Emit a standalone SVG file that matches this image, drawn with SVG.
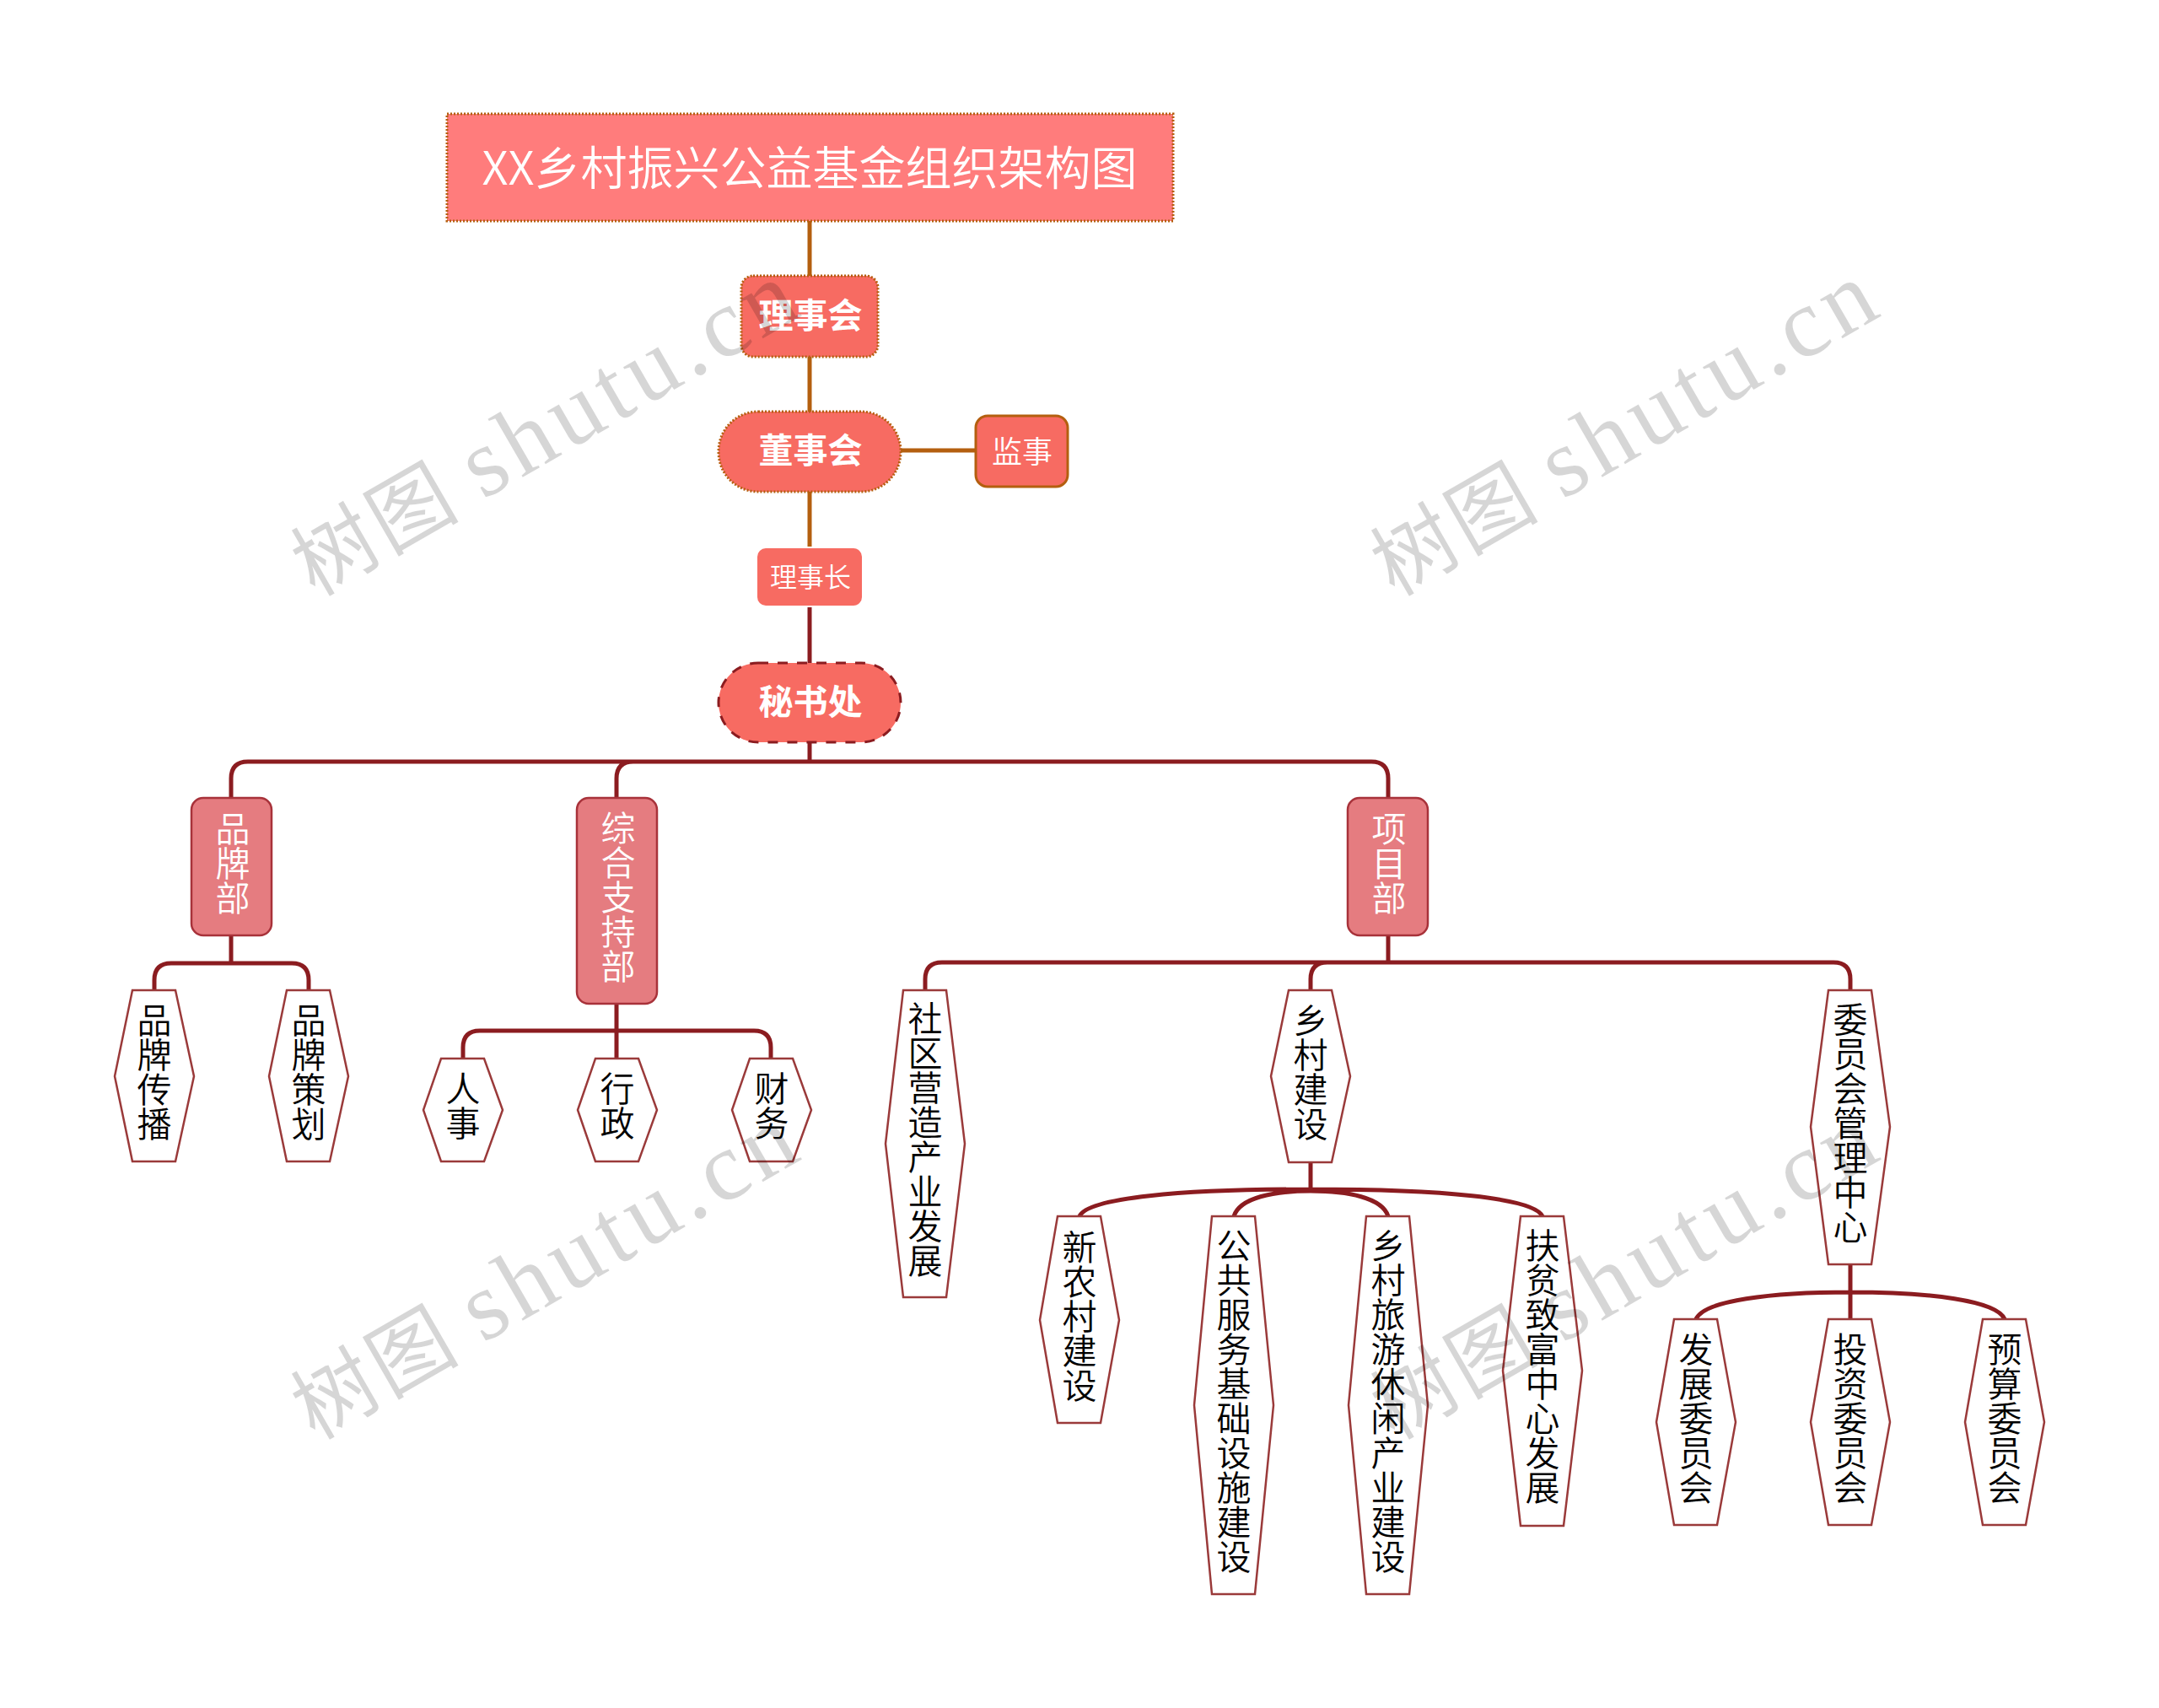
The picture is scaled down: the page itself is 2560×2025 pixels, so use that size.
<svg xmlns="http://www.w3.org/2000/svg" width="2560" height="2025" viewBox="0 0 2560 2025">
<style>
text{font-family:"Noto Sans CJK SC","Liberation Sans",sans-serif;text-anchor:middle}
.h{dominant-baseline:central;fill:#fff}
.v{writing-mode:vertical-rl;font-size:41px;font-weight:350}
.w{fill:#fff}
.k{fill:#000}
.hex{fill:#fff;stroke:#9a3a3a;stroke-width:2.5}
.dept{fill:#e57c80;stroke:#a8323a;stroke-width:2.5}
.c1{fill:none;stroke:#b45f0f;stroke-width:5}
.c2{fill:none;stroke:#8b1c20;stroke-width:5}
.wm{font-family:"Liberation Serif","Noto Sans CJK SC",serif;font-size:116px;letter-spacing:7px;fill:#000;fill-opacity:.16}
.wc{font-family:"Noto Sans CJK SC",serif;font-size:98px;letter-spacing:4px;font-weight:400}
</style>
<rect width="2560" height="2025" fill="#fff"/>
<g id="connectors">
<path class="c1" d="M960 262V327M960 423V488M960 583V648M1068 534H1157"/>
<path class="c2" d="M960 720V786M960 880V903M274 946V923Q274 903 294 903H1626Q1646 903 1646 923V946M731 946V923Q731 903 751 903"/>
<path class="c2" d="M274 1109V1142M183 1174V1162Q183 1142 203 1142H346Q366 1142 366 1162V1174"/>
<path class="c2" d="M731 1190V1255M549 1255V1242Q549 1222 569 1222H894Q914 1222 914 1242V1255"/>
<path class="c2" d="M1646 1109V1141M1097 1174V1161Q1097 1141 1117 1141H2174Q2194 1141 2194 1161V1174M1554 1174V1161Q1554 1141 1574 1141"/>
<path class="c2" d="M1554 1378V1410M1280 1442C1290 1420 1400 1410 1554 1410C1708 1410 1819 1420 1829 1442M1463 1442C1470 1420 1510 1412 1554 1412C1598 1412 1639 1420 1646 1442"/>
<path class="c2" d="M2194 1499V1564M2011 1564C2020 1542 2100 1532 2194 1532C2288 1532 2368 1542 2377 1564"/>
</g>
<g id="n-title"><rect x="530" y="135" width="861" height="127" fill="#ff7c7c" stroke="#b45f0f" stroke-width="3" stroke-dasharray="2 2"/><text class="h" x="960" y="195" font-size="55" font-weight="350">XX乡村振兴公益基金组织架构图</text></g>
<g id="n-lishihui"><rect x="879" y="327" width="162" height="96" rx="14" fill="#f76b62" stroke="#b45f0f" stroke-width="3" stroke-dasharray="2 2"/><text class="h" x="961" y="371" font-size="41" font-weight="700">理事会</text></g>
<g id="n-dongshihui"><rect x="852" y="488" width="216" height="95" rx="47" fill="#f76b62" stroke="#b45f0f" stroke-width="3" stroke-dasharray="2 2"/><text class="h" x="961" y="531" font-size="41" font-weight="700">董事会</text></g>
<g id="n-jianshi"><rect x="1157" y="493" width="109" height="84" rx="14" fill="#f76b62" stroke="#b45f0f" stroke-width="3"/><text class="h" x="1212" y="533" font-size="36" font-weight="350">监事</text></g>
<g id="n-lishizhang"><rect x="898" y="650" width="124" height="68" rx="10" fill="#f76b62"/><text class="h" x="961" y="682" font-size="32" font-weight="350">理事长</text></g>
<g id="n-mishuchu"><rect x="852" y="786" width="216" height="94" rx="47" fill="#f76b62" stroke="#8b1c20" stroke-width="3" stroke-dasharray="12 11"/><text class="h" x="961" y="829" font-size="41" font-weight="700">秘书处</text></g>
<g id="n-pinpai"><rect class="dept" x="227" y="946" width="95" height="163" rx="14"/><text class="v w" x="276" y="1023">品牌部</text></g>
<g id="n-zonghe"><rect class="dept" x="684" y="946" width="95" height="244" rx="14"/><text class="v w" x="733" y="1063">综合支持部</text></g>
<g id="n-xiangmu"><rect class="dept" x="1598" y="946" width="95" height="163" rx="14"/><text class="v w" x="1647" y="1023">项目部</text></g>
<g id="n-chuanbo"><polygon class="hex" points="157,1174 208,1174 230,1276 208,1377 157,1377 136,1276"/><text class="v k" x="183" y="1271">品牌传播</text></g>
<g id="n-cehua"><polygon class="hex" points="340,1174 391,1174 413,1276 391,1377 340,1377 319,1276"/><text class="v k" x="366" y="1271">品牌策划</text></g>
<g id="n-renshi"><polygon class="hex" points="523,1255 574,1255 596,1316 574,1377 523,1377 502,1316"/><text class="v k" x="549" y="1311">人事</text></g>
<g id="n-xingzheng"><polygon class="hex" points="706,1255 757,1255 779,1316 757,1377 706,1377 685,1316"/><text class="v k" x="732" y="1311">行政</text></g>
<g id="n-caiwu"><polygon class="hex" points="889,1255 940,1255 962,1316 940,1377 889,1377 868,1316"/><text class="v k" x="915" y="1311">财务</text></g>
<g id="n-shequ"><polygon class="hex" points="1071,1174 1122,1174 1144,1356 1122,1538 1071,1538 1050,1356"/><text class="v k" x="1097" y="1351">社区营造产业发展</text></g>
<g id="n-xiangcun"><polygon class="hex" points="1528,1174 1579,1174 1601,1276 1579,1378 1528,1378 1507,1276"/><text class="v k" x="1554" y="1271">乡村建设</text></g>
<g id="n-weiyuanhui"><polygon class="hex" points="2168,1174 2219,1174 2241,1336 2219,1499 2168,1499 2147,1336"/><text class="v k" x="2194" y="1331">委员会管理中心</text></g>
<g id="n-xinnongcun"><polygon class="hex" points="1254,1442 1305,1442 1327,1565 1305,1687 1254,1687 1233,1565"/><text class="v k" x="1280" y="1560">新农村建设</text></g>
<g id="n-gonggong"><polygon class="hex" points="1437,1442 1488,1442 1510,1666 1488,1890 1437,1890 1416,1666"/><text class="v k" x="1463" y="1661">公共服务基础设施建设</text></g>
<g id="n-lvyou"><polygon class="hex" points="1620,1442 1671,1442 1693,1666 1671,1890 1620,1890 1599,1666"/><text class="v k" x="1646" y="1661">乡村旅游休闲产业建设</text></g>
<g id="n-fupin"><polygon class="hex" points="1803,1442 1854,1442 1876,1625 1854,1809 1803,1809 1782,1625"/><text class="v k" x="1829" y="1620">扶贫致富中心发展</text></g>
<g id="n-fazhan"><polygon class="hex" points="1985,1564 2036,1564 2058,1686 2036,1808 1985,1808 1964,1686"/><text class="v k" x="2011" y="1681">发展委员会</text></g>
<g id="n-touzi"><polygon class="hex" points="2168,1564 2219,1564 2241,1686 2219,1808 2168,1808 2147,1686"/><text class="v k" x="2194" y="1681">投资委员会</text></g>
<g id="n-yusuan"><polygon class="hex" points="2351,1564 2402,1564 2424,1686 2402,1808 2351,1808 2330,1686"/><text class="v k" x="2377" y="1681">预算委员会</text></g>
<g id="watermarks">
<text class="wm" transform="translate(666 539) rotate(-30)"><tspan class="wc">树图 </tspan>shutu.cn</text>
<text class="wm" transform="translate(1946 539) rotate(-30)"><tspan class="wc">树图 </tspan>shutu.cn</text>
<text class="wm" transform="translate(666 1539) rotate(-30)"><tspan class="wc">树图 </tspan>shutu.cn</text>
<text class="wm" transform="translate(1946 1539) rotate(-30)"><tspan class="wc">树图 </tspan>shutu.cn</text>
</g>
</svg>
